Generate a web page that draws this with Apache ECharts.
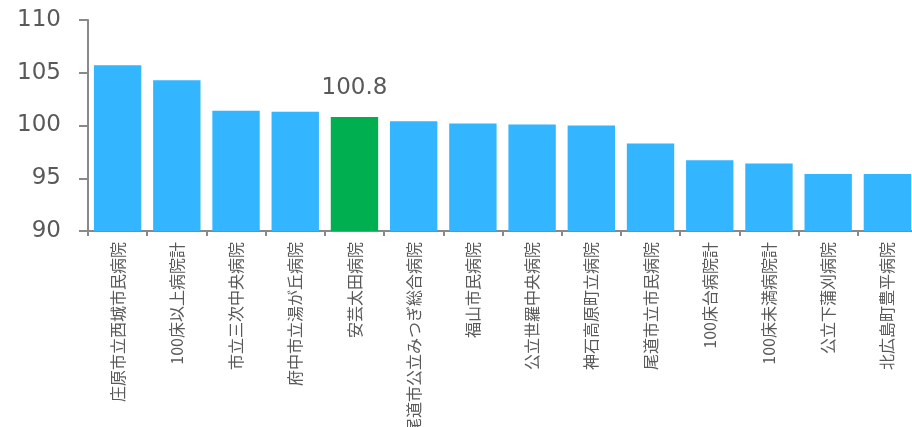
<!DOCTYPE html>
<html><head><meta charset="utf-8">
<script src="https://cdn.jsdelivr.net/npm/echarts@6/dist/echarts.min.js"></script>
<style>html,body{margin:0;padding:0;background:#fff}#c{width:912px;height:427px}</style>
</head><body><div id="c"></div>
<script>
const categories = ['庄原市立西城市民病院','100床以上病院計','市立三次中央病院','府中市立湯が丘病院','安芸太田病院','尾道市公立みつぎ総合病院','福山市民病院','公立世羅中央病院','神石高原町立病院','尾道市立市民病院','100床台病院計','100床未満病院計','公立下蒲刈病院','北広島町豊平病院'];
const values = [105.7,104.3,101.4,101.3,100.8,100.4,100.2,100.1,100.0,98.3,96.7,96.4,95.4,95.4];
const highlight = '安芸太田病院';
const yTicks = [90,95,100,105,110];

const chart = echarts.init(document.getElementById('c'), null, {renderer:'canvas'});
chart.setOption({
  animation:false,
  grid:{left:88, top:20, width:829, height:211, containLabel:false, outerBoundsMode:'none'},
  xAxis:{
    type:'category', data:categories,
    axisLine:{lineStyle:{color:'#898989', width:2}},
    axisTick:{show:true, alignWithLabel:false, length:5, lineStyle:{color:'#898989', width:2}},
    axisLabel:{rotate:90, interval:0, margin:11, color:'#595959', fontSize:16, fontFamily:'Noto Sans CJK JP'}
  },
  yAxis:{
    type:'value', min:yTicks[0], max:yTicks[yTicks.length-1], interval:5,
    axisLine:{show:true, lineStyle:{color:'#898989', width:2}},
    axisTick:{show:true, length:9, lineStyle:{color:'#898989', width:2}},
    splitLine:{show:false},
    axisLabel:{margin:27, color:'#595959', fontSize:23, fontFamily:'DejaVu Sans'}
  },
  series:[{
    type:'bar', barCategoryGap:'20%',
    data: values.map((v,i)=>{
      const isH = categories[i]===highlight;
      return {value:v, itemStyle:{color: isH ? '#00B050' : '#33B5FF'},
        label:{show:isH, position:'top', distance:18, color:'#595959', fontSize:23, fontFamily:'DejaVu Sans', formatter:p=>p.value.toFixed(1)}};
    })
  }]
});
</script></body></html>
